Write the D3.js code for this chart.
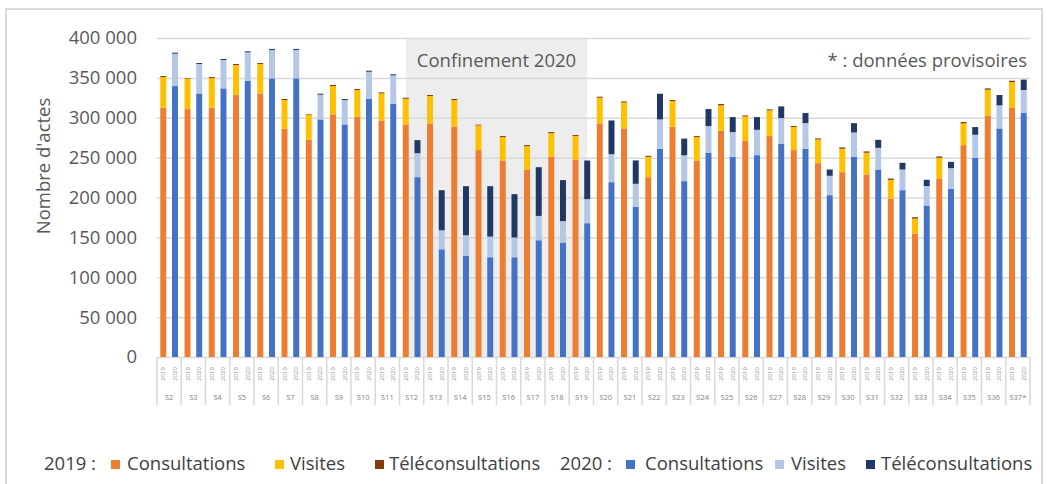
<!DOCTYPE html>
<html>
<head>
<meta charset="utf-8">
<script src="https://cdn.jsdelivr.net/npm/d3@7"></script>
<style>
  body { margin: 0; background: #fff; }
  svg { font-family: "Open Sans", sans-serif; }
</style>
</head>
<body>
<script>
// Weeks (x categories)
const weeks = ["S2","S3","S4","S5","S6","S7","S8","S9","S10","S11","S12","S13","S14","S15","S16","S17","S18","S19",
  "S20","S21","S22","S23","S24","S25","S26","S27","S28","S29","S30","S31","S32","S33","S34","S35","S36","S37*"];
const years = ["2019", "2020"];

// 2019 series
const consult2019 = [312500,310900,312500,328400,330500,286200,272400,304200,301200,296600,291600,292900,288700,259400,246400,235100,251000,247700,
  292900,286600,225500,288700,246400,283700,271100,277000,259400,243100,231800,228900,198300,154800,223800,265700,302900,312500];
const visites2019 = [38500,38100,37200,37700,36800,36000,31400,35600,33500,33900,32200,34300,33500,31000,29300,29300,29700,29300,
  32200,32600,25500,32200,29300,31800,30500,32200,28900,29700,29300,27200,23800,18800,25900,27200,32200,32200];
const tele2019 = [1300,700,1300,1300,1300,1300,700,1300,1300,1300,1300,1300,1300,900,1300,1300,1300,1300,
  1300,1300,1300,1300,1300,1700,1300,1300,1300,1300,1700,1700,1700,1700,1700,1700,1700,1700];

// 2020 series
const consult2020 = [339700,330500,336800,346400,349400,349400,297900,291600,323800,317600,225500,135100,127200,125100,125100,146400,143500,167800,
  219200,188300,261100,220500,256100,251000,253100,267400,261100,202900,251000,235100,209200,190000,210900,249800,286600,305900];
const visites2020 = [40600,36800,35600,35600,35600,35600,31000,30500,33900,35600,30100,23800,25500,25900,24700,30500,26800,30100,
  35100,28900,36800,32500,33500,31000,31800,32200,32200,24300,30500,27200,25900,24300,25900,28900,28900,28900];
const tele2020 = [1300,1300,1300,1300,1300,1300,1300,1300,1300,1300,16300,50200,61500,63200,54400,61100,51500,48500,
  42300,29300,32200,20900,21300,18800,15900,14600,12600,7900,11700,10000,8400,7900,7900,9600,13000,13000];

// Y ticks and annotations
const yTicks = [0, 50000, 100000, 150000, 200000, 250000, 300000, 350000, 400000];
const confinementWeeks = ["S12", "S19"];
const seriesNames = ["Consultations", "Visites", "Téléconsultations"];
const colors2019 = ["#ED7D31", "#FFC000", "#843C0C"];
const colors2020 = ["#4472C4", "#B4C7E7", "#203864"];

const W = 1047, H = 484;
const plotLeft = 157, plotRight = 1030, plotTop = 38, plotBottom = 357;
const textColor = "#595959";
const gridColor = "#d9d9d9";

const svg = d3.select("body").append("svg")
  .attr("width", W)
  .attr("height", H);

// chart frame
svg.append("rect")
  .attr("x", 6).attr("y", 9)
  .attr("width", 1036).attr("height", 500)
  .attr("fill", "none")
  .attr("stroke", gridColor)
  .attr("stroke-width", 2);

// Scales
const x = d3.scaleBand().domain(weeks).range([plotLeft, plotRight]);
const xYear = d3.scaleBand().domain(years).range([0, x.bandwidth()])
  .paddingInner(0.49).paddingOuter(0.28);
const y = d3.scaleLinear().domain([0, 400000]).range([plotBottom, plotTop]);

// Confinement shading (drawn under the gridlines)
const shadeX0 = x(confinementWeeks[0]) + xYear("2019") + xYear.bandwidth() / 2;
const shadeX1 = x(confinementWeeks[1]) + xYear("2020") + xYear.bandwidth() / 2;
svg.append("rect")
  .attr("x", shadeX0).attr("y", y(400000))
  .attr("width", shadeX1 - shadeX0)
  .attr("height", y(0) - y(400000))
  .attr("fill", "#ededed");

// Gridlines
svg.append("g")
  .attr("transform", `translate(${plotLeft},0)`)
  .call(d3.axisLeft(y).tickValues(yTicks).tickSize(-(plotRight - plotLeft)).tickFormat(""))
  .call(g => g.select(".domain").remove())
  .call(g => g.selectAll("line").attr("stroke", gridColor).attr("stroke-width", 1.5));

// Y axis labels
const fmt = d => d3.format(",")(d).replace(/,/g, " ");
svg.append("g")
  .attr("transform", `translate(${plotLeft},0)`)
  .call(d3.axisLeft(y).tickValues(yTicks).tickSize(0).tickPadding(20).tickFormat(fmt))
  .call(g => g.select(".domain").remove())
  .call(g => g.selectAll("text")
    .attr("fill", textColor)
    .style("font-size", "18.5px")
    .style("font-family", "Open Sans"));

// Y axis title
svg.append("text")
  .attr("transform", "translate(50,166) rotate(-90)")
  .attr("text-anchor", "middle")
  .attr("fill", textColor)
  .style("font-size", "18.5px")
  .text("Nombre d'actes");

// Stacked bars for each year
const stackKeys = ["c", "v", "t"];
const rows2019 = weeks.map((w, i) => ({ week: w, c: consult2019[i], v: visites2019[i], t: tele2019[i] }));
const rows2020 = weeks.map((w, i) => ({ week: w, c: consult2020[i], v: visites2020[i], t: tele2020[i] }));
const stack = d3.stack().keys(stackKeys);

[[rows2019, "2019", colors2019], [rows2020, "2020", colors2020]].forEach(([rows, yr, cols]) => {
  svg.append("g")
    .selectAll("g")
    .data(stack(rows))
    .enter()
    .append("g")
    .attr("fill", (d, i) => cols[i])
    .selectAll("rect")
    .data(d => d)
    .enter()
    .append("rect")
    .attr("x", d => x(d.data.week) + xYear(yr))
    .attr("width", xYear.bandwidth())
    .attr("y", d => y(d[1]))
    .attr("height", d => y(d[0]) - y(d[1]));
});

// Category axis: separators, year labels and week labels
const xAxis = svg.append("g");
xAxis.selectAll("line")
  .data(weeks.concat(["end"]))
  .enter()
  .append("line")
  .attr("x1", d => d === "end" ? plotRight : x(d))
  .attr("x2", d => d === "end" ? plotRight : x(d))
  .attr("y1", plotBottom)
  .attr("y2", 405)
  .attr("stroke", gridColor)
  .attr("stroke-width", 1.5);

weeks.forEach(w => {
  years.forEach(yr => {
    const cx = x(w) + xYear(yr) + xYear.bandwidth() / 2;
    xAxis.append("text")
      .attr("transform", `translate(${cx + 2},374) rotate(-90)`)
      .attr("text-anchor", "middle")
      .attr("fill", "#8c8c8c")
      .style("font-size", "6px")
      .text(yr);
  });
});

xAxis.selectAll("text.week")
  .data(weeks)
  .enter()
  .append("text")
  .attr("class", "week")
  .attr("x", d => x(d) + x.bandwidth() / 2)
  .attr("y", 400)
  .attr("text-anchor", "middle")
  .attr("fill", "#7f7f7f")
  .style("font-size", "7.5px")
  .text(d => d);

// Annotations
svg.append("text")
  .attr("x", (shadeX0 + shadeX1) / 2)
  .attr("y", 67)
  .attr("text-anchor", "middle")
  .attr("fill", textColor)
  .style("font-size", "18.5px")
  .text("Confinement 2020");

svg.append("text")
  .attr("x", 1027)
  .attr("y", 67)
  .attr("text-anchor", "end")
  .attr("fill", textColor)
  .style("font-size", "18.5px")
  .text("* : données provisoires");

// Legend
const legend = svg.append("g").style("font-size", "18.5px").attr("fill", "#404040");
const legendY = 470;
const legendGroups = [
  { label: "2019 :", lx: 44, cols: colors2019, sq: [111, 275, 375], tx: [127, 290, 389] },
  { label: "2020 :", lx: 560, cols: colors2020, sq: [626, 775, 866], tx: [645, 791, 881] }
];
legendGroups.forEach(gr => {
  legend.append("text").attr("x", gr.lx).attr("y", legendY).text(gr.label);
  seriesNames.forEach((name, i) => {
    legend.append("rect")
      .attr("x", gr.sq[i]).attr("y", legendY - 10)
      .attr("width", 9).attr("height", 9)
      .attr("fill", gr.cols[i]);
    legend.append("text")
      .attr("x", gr.tx[i]).attr("y", legendY)
      .text(name);
  });
});
</script>
</body>
</html>
